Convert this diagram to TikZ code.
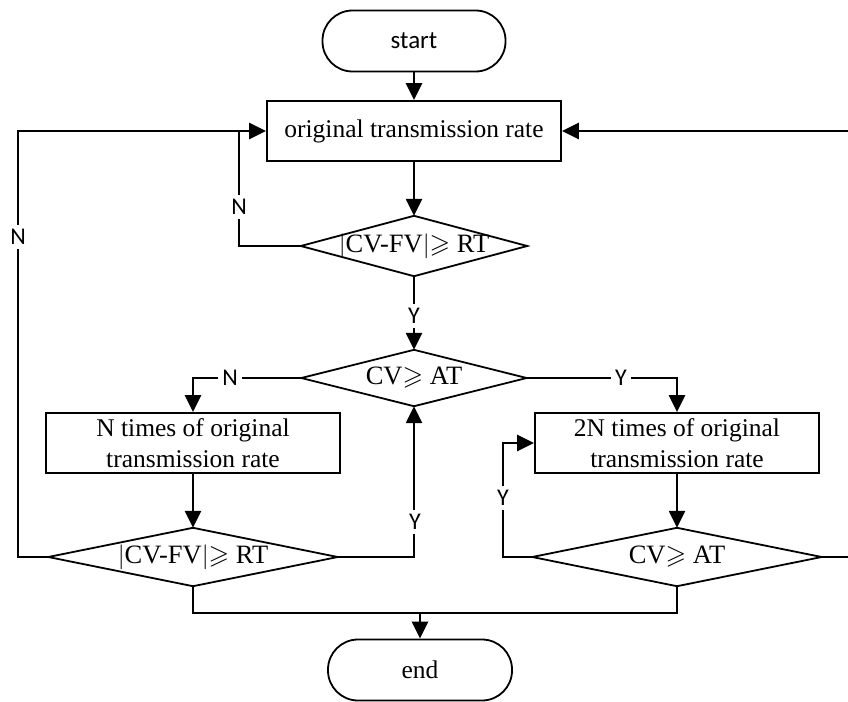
\documentclass[tikz,border=0pt]{standalone}
\usepackage{amssymb}
\usepackage{fontspec}
\setmainfont{Liberation Serif}
\newfontfamily\lblfont{Carlito}
\usetikzlibrary{arrows.meta}
\begin{document}
\begin{tikzpicture}[x=1pt,y=-1pt,
  serif/.style={font=\fontsize{25.5}{31}\selectfont},
  term/.style={draw, line width=1.8pt, rounded corners=30pt, minimum height=61pt, inner sep=0pt},
  proc/.style={draw, line width=1.8pt, minimum height=60pt, inner sep=0pt, align=center, serif},
  dec/.style={draw=none, inner sep=0pt, font=\fontsize{26.5}{31}\selectfont},
  decline/.style={line width=1.8pt, line join=miter},
  conn/.style={line width=2.5pt, -{Triangle[length=17pt,width=16pt]}},
  plain/.style={line width=2.5pt},
  lbl/.style={fill=white, inner xsep=2pt, inner ysep=4pt, font=\lblfont\fontsize{24}{26}\selectfont}]
\useasboundingbox (0,0) rectangle (848,701);

% nodes
\node[term, minimum width=183pt, font=\lblfont\fontsize{25}{30}\selectfont] (start) at (414,41) {start};
\node[proc, minimum width=294pt] (b1) at (414,131) {original transmission rate};
\node[dec, minimum width=226pt, minimum height=60pt] (d1) at (414,246) {$|$CV-FV$|$$\geqslant$ RT};
\node[dec, minimum width=225pt, minimum height=56pt] (d2) at (414,378) {CV$\geqslant$ AT};
\node[proc, minimum width=294pt] (bN) at (193,443) {N times of original\\transmission rate};
\node[proc, minimum width=284pt] (b2N) at (677,443) {2N times of original\\transmission rate};
\node[dec, minimum width=289pt, minimum height=58pt] (d3) at (193,557) {$|$CV-FV$|$$\geqslant$ RT};
\node[dec, minimum width=289pt, minimum height=58pt] (d4) at (677,557) {CV$\geqslant$ AT};
\node[term, minimum width=184pt, serif] (end) at (420,670) {end};

\foreach \d in {d1,d2,d3,d4}
  \draw[decline] (\d.west) -- (\d.north) -- (\d.east) -- (\d.south) -- cycle;

% helper coordinates
\coordinate (cN1) at (239,131);
\coordinate (cTL) at (18,131);
\coordinate (cY1) at (503,557);
\coordinate (cR1) at (856,557);
\coordinate (cJ) at (420,613);

% connectors
\draw[conn] (start.south) -- (b1.north);
\draw[conn] (b1.south) -- (d1.north);
\draw[plain] (d1.west) -| (cN1);
\draw[conn] (d1.south) -- (d2.north);
\draw[conn] (d2.west) -| (bN.north);
\draw[conn] (d2.east) -| (b2N.north);
\draw[conn] (bN.south) -- (d3.north);
\draw[conn] (b2N.south) -- (d4.north);
\draw[conn] (d3.east) -| (d2.south);
\draw[conn] (d3.west) -| (cTL) -- (b1.west);
\draw[conn] (d4.west) -- (cY1) |- (b2N.west);
\draw[conn] (d4.east) -- (cR1) |- (b1.east);
\draw[plain] (d3.south) |- (cJ);
\draw[plain] (d4.south) |- (cJ);
\draw[conn] (cJ) -- (end.north);

% labels
\node[lbl] (lN1) at (239,207) {N};
\node[lbl] (lN2) at (18,237) {N};
\node[lbl] (lY1) at (414,316) {Y};
\node[lbl, inner ysep=2pt, inner xsep=4pt] (lN3) at (230,378) {N};
\node[lbl, inner ysep=2pt, inner xsep=4pt] (lY2) at (621,378) {Y};
\node[lbl] (lY3) at (415,522) {Y};
\node[lbl] (lY4) at (503,498) {Y};
\end{tikzpicture}
\end{document}
